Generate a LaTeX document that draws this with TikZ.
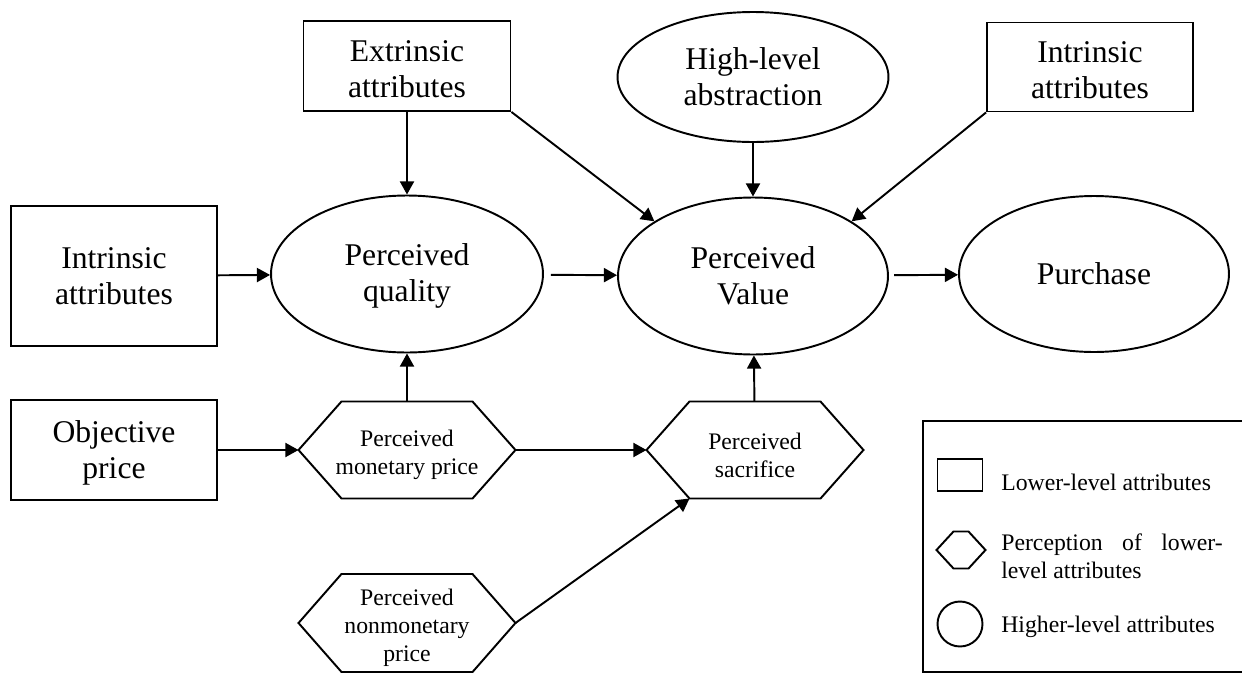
\documentclass[tikz,border=0pt]{standalone}
\usepackage{fontspec}
\setmainfont{Liberation Serif}
\usetikzlibrary{arrows.meta,shapes.geometric}

\newcommand{\attrfont}{\fontsize{18}{20.5}\selectfont}
\newcommand{\percfont}{\fontsize{13.5}{16}\selectfont}
\newcommand{\toppad}[1]{\rule{0pt}{#1}}
\newcommand{\hexoutline}[4]{%
    \draw[line width=1.1pt] (#1.west) -- ++(#2,#3) coordinate (#1-sw) -- ++(#4,0) -- (#1.east) -- ++(-#2,-#3) -- ++(-#4,0) -- cycle;
}

\tikzset{
    attr/.style={draw, line width=1.1pt, rectangle, align=center, font=\attrfont},
    higher/.style={draw, line width=1.1pt, ellipse, align=center, font=\attrfont},
    percep/.style={rectangle, inner sep=0pt, outer sep=0pt, align=center, font=\percfont},
    link/.style={line width=1.1pt, -{Triangle[length=7.5pt,width=8pt]}}
}

\begin{document}
\begin{tikzpicture}[x=0.02cm, y=-0.02cm]

    \useasboundingbox (0,0) rectangle (1242,673);

    \node[attr, minimum width=4.14cm, minimum height=1.8cm] (extr) at (407,66) {\toppad{15.5pt}Extrinsic\\attributes};
    \node[higher, minimum width=5.42cm, minimum height=2.6cm] (abstr) at (753,77) {High-level\\abstraction};
    \node[attr, minimum width=4.12cm, minimum height=1.78cm] (intrtop) at (1090,67) {\toppad{15.5pt}Intrinsic\\attributes};

    \node[attr, minimum width=4.12cm, minimum height=2.8cm] (intr) at (114,276) {Intrinsic\\attributes};
    \node[higher, minimum width=5.44cm, minimum height=3.14cm] (qual) at (407,274) {\toppad{15pt}Perceived\\quality};
    \node[higher, minimum width=5.4cm, minimum height=3.14cm] (value) at (753,276) {Perceived\\Value};
    \node[higher, minimum width=5.4cm, minimum height=3.12cm] (purch) at (1094,274) {Purchase};

    \node[attr, minimum width=4.12cm, minimum height=2cm] (objprice) at (114,450) {\toppad{15.5pt}Objective\\price};

    \node[percep, minimum width=4.34cm, minimum height=1.94cm] (monprice) at (407,450) {\toppad{15pt}Perceived\\monetary price};
    \hexoutline{monprice}{43}{48.5}{131}
    \node[percep, minimum width=4.34cm, minimum height=1.94cm] (sacr) at (755,450) {\toppad{15pt}Perceived\\sacrifice};
    \hexoutline{sacr}{43}{48.5}{131}
    \node[percep, minimum width=4.34cm, minimum height=1.96cm] (nonmon) at (407,623) {\toppad{15pt}Perceived\\nonmonetary\\price};
    \hexoutline{nonmon}{43}{49}{131}

    \draw[link] (extr) -- (qual);
    \draw[link] (extr.south east) -- (value.151);
    \draw[link] (abstr) -- (value);
    \draw[link] (intrtop.south west) -- (value.29);
    \draw[link] (intr) -- (qual);
    \draw[link, shorten <=4pt] (qual) -- (value);
    \draw[link, shorten <=3pt] (value) -- (purch);
    \draw[link] (monprice) -- (qual);
    \draw[link] (sacr) -- (value);
    \draw[link] (objprice.east) -- (monprice.west);
    \draw[link] (monprice.east) -- (sacr.west);
    \draw[link] (nonmon.east) -- (sacr-sw);

    \draw[line width=1.1pt] (923,421) rectangle (1252,672);

    \node[draw, line width=1.1pt, rectangle, minimum width=0.9cm, minimum height=0.64cm] (legrect) at (960,475) {};
    \node[rectangle, inner sep=0pt, outer sep=0pt, minimum width=0.98cm, minimum height=0.74cm] (leghex) at (961,550) {};
    \hexoutline{leghex}{17}{18.5}{15}
    \node[draw, line width=1.1pt, circle, minimum size=0.9cm] (legcirc) at (960,624) {};

    \node[font=\percfont, anchor=west, inner sep=0pt] (legattr) at (1001,482) {Lower-level attributes};
    \node[font=\percfont, anchor=west, inner sep=0pt, align=left] (legperc) at (1001,556) {\makebox[126pt][s]{Perception of lower-}\\level attributes};
    \node[font=\percfont, anchor=west, inner sep=0pt] (leghigh) at (1001,627) {Higher-level attributes};

\end{tikzpicture}
\end{document}
